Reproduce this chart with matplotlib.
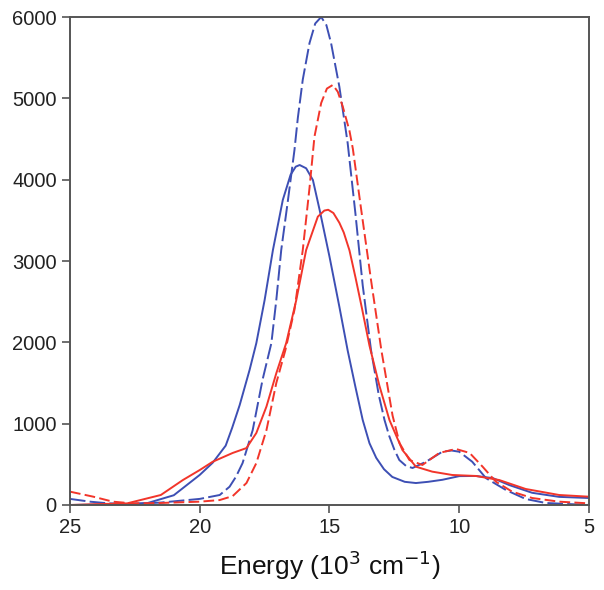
import matplotlib
matplotlib.use('Agg')
import matplotlib.pyplot as plt

plt.rcParams['font.family'] = ['Liberation Sans', 'DejaVu Sans']

# ── 데이터 ────────────────────────────────────────────────────────────
blue_solid_x = [25.0, 24.0, 23.0, 22.0, 21.0, 20.0, 19.5, 19.0, 18.75, 18.46, 18.08,
                17.82, 17.5, 17.18, 16.8, 16.5, 16.3, 16.15, 15.9, 15.64, 15.38,
                15.0, 14.62, 14.3, 14.0, 13.72, 13.46, 13.2, 12.9, 12.58, 12.1,
                11.67, 11.2, 10.65, 10.0, 9.36, 8.7, 8.08, 7.19, 6.15, 5.0]
blue_solid_y = [0, 5, 5, 25, 120, 370, 520, 730, 950, 1230, 1660,
                1990, 2520, 3135, 3750, 4060, 4160, 4180, 4140, 3996, 3627,
                3053, 2438, 1900, 1450, 1045, 760, 580, 440, 345, 285,
                270, 285, 310, 355, 357, 330, 246, 150, 100, 86]

blue_dash_x = [25.0, 24.2, 23.5, 22.5, 21.5, 20.0, 19.23, 18.85, 18.6, 18.35, 17.96,
               17.58, 17.24, 17.05, 16.86, 16.6, 16.35, 16.22, 16.03, 15.77, 15.55,
               15.32, 15.12, 14.94, 14.62, 14.3, 14.0, 13.72, 13.4, 13.1, 12.88,
               12.7, 12.5, 12.31, 12.05, 11.8, 11.28, 10.65, 10.3, 10.0, 9.5,
               8.97, 8.2, 7.44, 6.67, 5.0]
blue_dash_y = [75, 40, 20, 15, 30, 75, 123, 225, 350, 515, 920,
               1540, 1990, 2520, 3135, 3750, 4365, 4760, 5230, 5680, 5920,
               6000, 5900, 5680, 5143, 4450, 3580, 2700, 1905, 1350, 1045,
               850, 680, 553, 480, 455, 532, 655, 670, 655, 532,
               330, 184, 74, 25, 0]

red_solid_x = [25.0, 24.0, 22.8, 21.5, 20.65, 20.0, 19.5, 18.73, 18.2, 17.82, 17.43,
               17.05, 16.67, 16.28, 15.9, 15.45, 15.2, 15.05, 14.85, 14.62, 14.45,
               14.23, 14.0, 13.75, 13.46, 13.08, 12.69, 12.19, 11.67, 11.04, 10.27,
               9.36, 8.46, 7.44, 6.15, 5.0]
red_solid_y = [0, 10, 20, 123, 307, 430, 532, 640, 700, 885, 1210,
               1620, 1990, 2520, 3135, 3545, 3620, 3630, 3590, 3470, 3350,
               3130, 2800, 2420, 1960, 1470, 1045, 676, 471, 410, 369,
               357, 307, 197, 123, 102]

red_dash_x = [25.0, 24.1, 23.35, 22.6, 21.5, 20.0, 19.23, 18.73, 18.2, 17.82, 17.43,
              17.05, 16.7, 16.35, 16.03, 15.77, 15.58, 15.32, 15.1, 14.87, 14.68,
              14.49, 14.23, 14.1, 13.8, 13.4, 13.0, 12.57, 12.3, 11.92, 11.42,
              10.77, 10.13, 9.6, 9.1, 8.59, 7.96, 7.19, 6.15, 5.0]
red_dash_y = [164, 102, 41, 20, 25, 41, 61, 110, 270, 515, 920,
              1500, 1905, 2400, 3135, 3900, 4528, 4943, 5120, 5165, 5080,
              4900, 4600, 4380, 3680, 2766, 1900, 1100, 760, 553, 492,
              640, 689, 640, 471, 287, 164, 86, 41, 20]

BLUE = '#3D4FB4'
RED = '#F2352A'

fig = plt.figure(figsize=(6.04, 5.90), dpi=100)
ax = fig.add_axes([70 / 604, 85 / 590, 519 / 604, 488 / 590])

ax.plot(blue_solid_x, blue_solid_y, color=BLUE, lw=1.4)
ax.plot(blue_dash_x, blue_dash_y, color=BLUE, lw=1.4, dashes=(8, 2.2))
ax.plot(red_solid_x, red_solid_y, color=RED, lw=1.4)
ax.plot(red_dash_x, red_dash_y, color=RED, lw=1.4, dashes=(5.5, 2.2))

ax.set_xlim(25, 5)
ax.set_ylim(0, 6000)
ax.set_xticks([25, 20, 15, 10, 5])
ax.set_yticks(range(0, 6001, 1000))
ax.tick_params(direction='out', length=6, width=1.2, labelsize=14.5,
               colors='#555555', labelcolor='#222222', top=False, right=False)
for sp in ax.spines.values():
    sp.set_color('#555555')
    sp.set_linewidth(1.4)

ax.set_xlabel('Energy (10$^{3}$ cm$^{-1}$)', fontsize=19, labelpad=8,
              color='#111111')

fig.savefig('out.png', dpi=100)
